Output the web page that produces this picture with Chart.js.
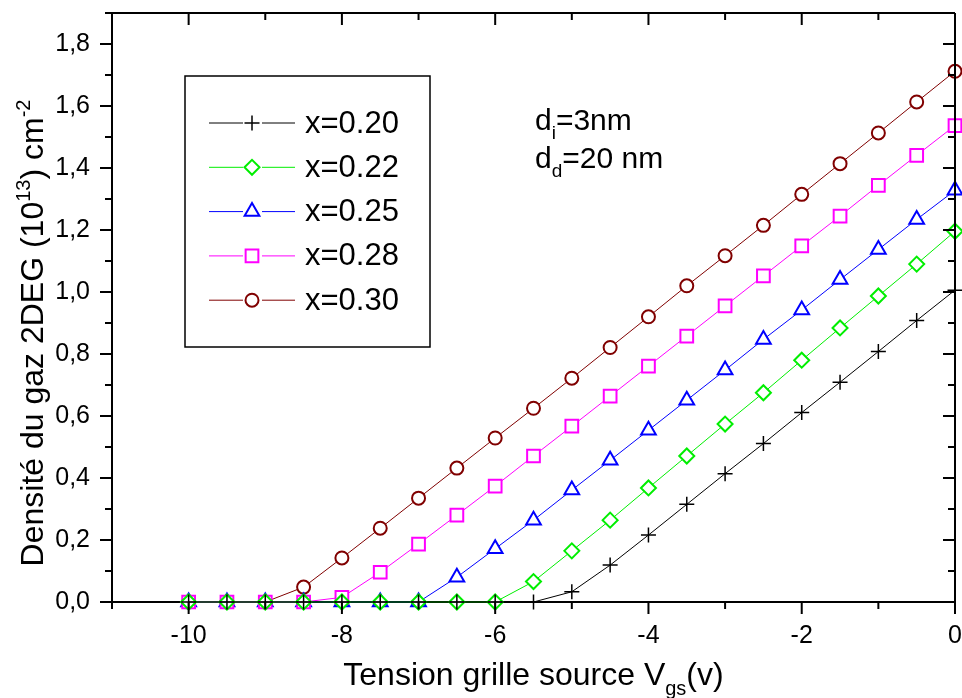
<!DOCTYPE html>
<html>
<head>
<meta charset="utf-8">
<script src="https://cdn.jsdelivr.net/npm/chart.js@4.4.0/dist/chart.umd.min.js"></script>
<style>
  body { margin: 0; background: #fff; }
  #wrap { width: 962px; height: 698px; }
</style>
</head>
<body>
<div id="wrap"><canvas id="densityChart" width="962" height="698"></canvas></div>
<script>
// data
const vgs = [-10, -9.5, -9, -8.5, -8, -7.5, -7, -6.5, -6, -5.5, -5, -4.5, -4, -3.5, -3, -2.5, -2, -1.5, -1, -0.5, 0];
const x020 = [0, 0, 0, 0, 0, 0, 0, 0, 0, 0, 0.033, 0.119, 0.216, 0.315, 0.414, 0.511, 0.611, 0.709, 0.808, 0.908, 1.006];
const x022 = [0, 0, 0, 0, 0, 0, 0, 0, 0, 0.066, 0.165, 0.264, 0.368, 0.471, 0.574, 0.675, 0.78, 0.884, 0.987, 1.09, 1.196];
const x025 = [0, 0, 0, 0, 0, 0, 0, 0.08, 0.172, 0.264, 0.361, 0.457, 0.554, 0.651, 0.748, 0.847, 0.942, 1.04, 1.137, 1.234, 1.328];
const x028 = [0, 0, 0, 0, 0.015, 0.096, 0.187, 0.28, 0.374, 0.471, 0.567, 0.664, 0.761, 0.858, 0.955, 1.052, 1.149, 1.245, 1.344, 1.441, 1.537];
const x030 = [0, 0, 0, 0.048, 0.142, 0.238, 0.335, 0.432, 0.529, 0.625, 0.722, 0.821, 0.92, 1.02, 1.117, 1.215, 1.315, 1.414, 1.513, 1.613, 1.712];

const seriesNames = ["x=0.20", "x=0.22", "x=0.25", "x=0.28", "x=0.30"];
const xTicksMin = -11, xTicksMax = 0;
const yTicksMin = 0, yTicksMax = 1.9;

const FONT = '"Liberation Sans", Arial, sans-serif';

function toPoints(values) {
  return values.map((v, i) => ({ x: vgs[i], y: v }));
}

function makeSet(label, values, color, style, radius, bw, order) {
  return {
    label: label,
    data: toPoints(values),
    borderColor: color,
    borderWidth: 1,
    pointStyle: style,
    pointRadius: radius,
    pointBorderWidth: bw,
    pointBorderColor: color,
    pointBackgroundColor: "#fff",
    showLine: true,
    tension: 0,
    clip: false,
    order: order,
  };
}

// no extra padding from the scales, the plot box is fixed
function fixPadding(scale) {
  scale.paddingLeft = 0;
  scale.paddingRight = 0;
  scale.paddingTop = 0;
  scale.paddingBottom = 0;
}

// text with sub/superscripts
function drawRich(ctx, parts, x, y, size, align) {
  const small = Math.round(size * 0.62);
  let total = 0;
  parts.forEach((p) => {
    ctx.font = (p[1] === "n" ? size : small) + "px " + FONT;
    total += ctx.measureText(p[0]).width;
  });
  let cx = align === "center" ? x - total / 2 : x;
  ctx.textAlign = "left";
  ctx.textBaseline = "alphabetic";
  parts.forEach((p) => {
    let dy = 0;
    if (p[1] === "n") ctx.font = size + "px " + FONT;
    else ctx.font = small + "px " + FONT;
    if (p[1] === "sup") dy = -size * 0.42;
    if (p[1] === "sub") dy = size * 0.3;
    ctx.fillText(p[0], cx, y + dy);
    cx += ctx.measureText(p[0]).width;
  });
}

// frame, tick marks, titles, legend box and note
const decorations = {
  id: "decorations",
  afterDraw(chart) {
    const { ctx, chartArea: a, scales } = chart;
    ctx.save();
    ctx.strokeStyle = "#000";
    ctx.fillStyle = "#000";
    ctx.lineWidth = 2;

    const seg = (x1, y1, x2, y2) => {
      ctx.beginPath();
      ctx.moveTo(x1, y1);
      ctx.lineTo(x2, y2);
      ctx.stroke();
    };

    seg(a.left, a.top, a.right, a.top);
    seg(a.right, a.top, a.right, a.bottom);

    scales.x.ticks.forEach((t) => {
      const px = scales.x.getPixelForValue(t.value);
      const len = Math.round(t.value) % 2 === 0 ? 12 : 7;
      seg(px, a.bottom, px, a.bottom + len);
      seg(px, a.top, px, a.top + len);
    });
    scales.y.ticks.forEach((t) => {
      const py = scales.y.getPixelForValue(t.value);
      const len = Math.round(t.value * 10) % 2 === 0 ? 12 : 7;
      seg(a.left - len, py, a.left, py);
      seg(a.right - len, py, a.right, py);
    });

    // axis titles
    drawRich(ctx, [["Tension grille source V", "n"], ["gs", "sub"], ["(v)", "n"]],
      (a.left + a.right) / 2, 685, 32, "center");
    ctx.save();
    ctx.translate(43, 333);
    ctx.rotate(-Math.PI / 2);
    drawRich(ctx, [["Densité du gaz 2DEG (10", "n"], ["13", "sup"], [") cm", "n"], ["-2", "sup"]],
      0, 0, 32, "center");
    ctx.restore();

    // note
    drawRich(ctx, [["d", "n"], ["i", "sub"], ["=3nm", "n"]], 535, 130, 30, "left");
    drawRich(ctx, [["d", "n"], ["d", "sub"], ["=20 nm", "n"]], 535, 168, 30, "left");

    // legend box
    ctx.lineWidth = 1.5;
    ctx.strokeRect(185, 76, 245, 271);
    chart.data.datasets.forEach((ds, i) => {
      const ry = 123 + i * 44.3;
      ctx.strokeStyle = ds.borderColor;
      ctx.lineWidth = 1;
      seg(209, ry, 243, ry);
      seg(262, ry, 295, ry);
      ctx.fillStyle = "#fff";
      ctx.lineWidth = ds.pointBorderWidth;
      Chart.helpers.drawPoint(ctx, {
        pointStyle: ds.pointStyle,
        radius: ds.pointRadius,
        borderWidth: ds.pointBorderWidth,
        rotation: 0,
      }, 252, ry);
      ctx.fillStyle = "#000";
      ctx.font = "31px " + FONT;
      ctx.textAlign = "left";
      ctx.textBaseline = "middle";
      ctx.fillText(seriesNames[i], 305, ry + 1);
    });
    ctx.restore();
  },
};

const ctx = document.getElementById("densityChart");

new Chart(ctx, {
  type: "scatter",
  data: {
    datasets: [
      makeSet(seriesNames[0], x020, "#000000", "cross", 7.5, 1.5, 0),
      makeSet(seriesNames[1], x022, "#00ee00", "rectRot", 7.5, 2, 1),
      makeSet(seriesNames[2], x025, "#0000ff", "triangle", 8.5, 2, 3),
      makeSet(seriesNames[3], x028, "#ff00ff", "rect", 9, 2, 2),
      makeSet(seriesNames[4], x030, "#800000", "circle", 6.5, 2, 4),
    ],
  },
  options: {
    responsive: false,
    animation: false,
    events: [],
    layout: { autoPadding: false, padding: { left: 0, right: 7, top: 13, bottom: 0 } },
    scales: {
      x: {
        type: "linear",
        min: xTicksMin,
        max: xTicksMax,
        afterFit: (scale) => { scale.height = 96; fixPadding(scale); },
        grid: { display: false, drawTicks: false },
        border: { display: true, width: 2, color: "#000" },
        ticks: {
          stepSize: 1,
          padding: 19,
          color: "#000",
          font: { family: FONT, size: 25 },
          maxRotation: 0,
          autoSkip: false,
          callback: (v) => (Math.round(v) % 2 === 0 && v > xTicksMin ? String(v) : ""),
        },
      },
      y: {
        min: yTicksMin,
        max: yTicksMax,
        afterFit: (scale) => { scale.width = 112; fixPadding(scale); },
        grid: { display: false, drawTicks: false },
        border: { display: true, width: 2, color: "#000" },
        ticks: {
          stepSize: 0.1,
          padding: 22,
          color: "#000",
          font: { family: FONT, size: 25 },
          autoSkip: false,
          callback: (v) => (Math.round(v * 10) % 2 === 0 ? v.toFixed(1).replace(".", ",") : ""),
        },
      },
    },
    plugins: {
      legend: { display: false },
      tooltip: { enabled: false },
    },
  },
  plugins: [decorations],
});
</script>
</body>
</html>
